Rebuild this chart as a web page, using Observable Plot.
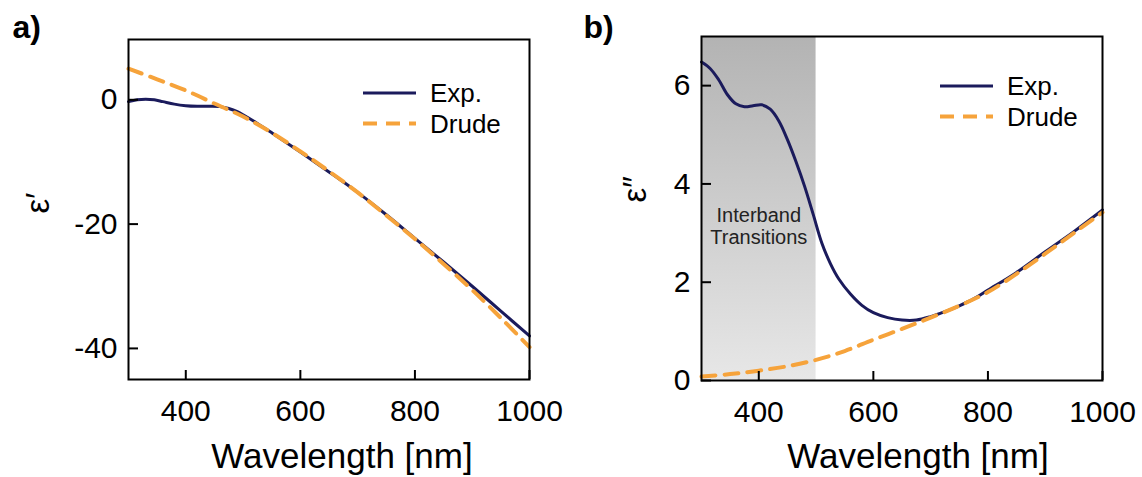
<!DOCTYPE html>
<html><head><meta charset="utf-8">
<script src="https://cdn.jsdelivr.net/npm/d3@7"></script>
<script src="https://cdn.jsdelivr.net/npm/@observablehq/plot@0.6"></script>
<style>
body{margin:0;background:#fff;}
#wrap{position:relative;width:1142px;height:477px;font-family:"Liberation Sans",Arial,sans-serif;overflow:hidden;}
#wrap svg{position:absolute;top:0;}
</style></head><body><div id="wrap"></div>
<script>
// ---- data ----
const xDomain = [300, 1000];
const xTicks = [400, 600, 800, 1000];
const yDomainA = [-45, 9.7];
const yTicksA = [-40, -20, 0];
const yDomainB = [0, 7];
const yTicksB = [0, 2, 4, 6];

// panel a: real part eps'
const wlExpA = [300,315,330,345,360,380,400,420,440,460,475,490,500,525,550,600,650,700,750,800,850,900,950,1000];
const epsRealExp = [-0.3,0.0,0.1,0.0,-0.3,-0.7,-0.95,-1.05,-1.05,-1.1,-1.4,-1.9,-2.4,-3.8,-5.3,-8.4,-11.6,-14.9,-18.5,-22.3,-26.1,-30.0,-34.0,-38.0];
const wlDrudeA = [300,350,400,450,500,550,600,650,700,750,800,850,900,950,1000];
const epsRealDrude = [5.0,3.3,1.5,-0.6,-2.7,-5.3,-8.3,-11.5,-14.9,-18.6,-22.4,-26.4,-30.6,-35.1,-39.8];

// panel b: imaginary part eps''
const wlExpB = [300,315,330,345,360,375,390,405,420,435,450,465,480,495,510,525,540,560,580,600,625,650,675,700,725,750,775,800,850,900,950,1000];
const epsImagExp = [6.48,6.35,6.12,5.82,5.63,5.57,5.59,5.61,5.52,5.28,4.9,4.45,3.95,3.38,2.8,2.38,2.06,1.76,1.53,1.38,1.28,1.23,1.23,1.3,1.4,1.52,1.66,1.84,2.2,2.62,3.03,3.47];
const wlDrudeB = [300,350,400,450,500,550,600,650,700,750,800,850,900,950,1000];
const epsImagDrude = [0.08,0.13,0.2,0.29,0.42,0.6,0.83,1.05,1.28,1.52,1.8,2.17,2.58,3.0,3.42];

const shadeBand = [{x1: 300, x2: 500}];
const annotation = [{x: 400, y: 3.14, label: "Interband\nTransitions"}];
const legendLabels = ["Exp.", "Drude"];
const xLabel = "Wavelength [nm]";

const NAVY = "#1b1b5c";
const ORANGE = "#f6a33b";
const FONT = "'Liberation Sans', Arial, sans-serif";

function makePanel(o) {
  const exp = o.wlExp.map((x, i) => ({x, y: o.exp[i]}));
  const dru = o.wlDrude.map((x, i) => ({x, y: o.drude[i]}));
  const marks = [];
  if (o.shade) marks.push(Plot.rect(o.shade, {x1: "x1", x2: "x2", fill: "url(#ibGrad)"}));
  if (o.annot) marks.push(Plot.text(o.annot, {x: "x", y: "y", text: "label", fontSize: 20, lineHeight: 1.08, fill: "#222"}));
  marks.push(
    Plot.line(exp, {x: "x", y: "y", stroke: NAVY, strokeWidth: 3, curve: "catmull-rom"}),
    Plot.line(dru, {x: "x", y: "y", stroke: ORANGE, strokeWidth: 4, strokeDasharray: "14,9", curve: "catmull-rom"}),
    Plot.axisX(xTicks, {anchor: "bottom", tickSize: 0, tickPadding: 20, fontSize: 30, label: null, tickFormat: d => String(d)}),
    Plot.axisY(o.yTicks, {anchor: "left", tickSize: 0, tickPadding: 11, fontSize: 30, label: null, tickFormat: d => String(d)}),
    Plot.ruleX(xTicks, {x: d => d, y1: o.yDomain[0], y2: o.yDomain[0], insetBottom: 9, stroke: "black", strokeWidth: 2}),
    Plot.ruleY(o.yTicks, {y: d => d, x1: xDomain[0], x2: xDomain[0], insetRight: -10, stroke: "black", strokeWidth: 2}),
    Plot.frame({stroke: "black", strokeWidth: 2}),
    Plot.text([xLabel], {text: d => d, frameAnchor: "bottom", lineAnchor: "bottom", dy: o.xlDy, dx: o.xlDx, fontSize: 35}),
    Plot.text([o.ylabel], {text: d => d, frameAnchor: "left", lineAnchor: "bottom", rotate: -90, dx: o.ylDx, dy: o.ylDy, fontSize: 33}),
    Plot.text([o.letter], {text: d => d, frameAnchor: "top-left", textAnchor: "start", lineAnchor: "bottom", dx: 12 - o.margin[3], dy: 37 - o.margin[0], fontSize: 32, fontWeight: "bold"})
  );
  const svg = Plot.plot({
    width: 571, height: 477,
    marginTop: o.margin[0], marginRight: o.margin[1], marginBottom: o.margin[2], marginLeft: o.margin[3],
    x: {domain: xDomain},
    y: {domain: o.yDomain},
    style: {fontFamily: FONT, background: "transparent", color: "black", overflow: "visible"},
    marks
  });
  if (o.shade) {
    const defs = d3.select(svg).insert("defs", ":first-child");
    const g = defs.append("linearGradient").attr("id", "ibGrad").attr("x1", 0).attr("y1", 0).attr("x2", 0).attr("y2", 1);
    g.append("stop").attr("offset", 0).attr("stop-color", "#b3b3b3");
    g.append("stop").attr("offset", 1).attr("stop-color", "#e7e7e7");
  }
  svg.style.left = o.left + "px";
  return svg;
}

const wrap = document.getElementById("wrap");
wrap.append(makePanel({
  left: 0, margin: [39, 42, 98, 128], yDomain: yDomainA, yTicks: yTicksA,
  wlExp: wlExpA, exp: epsRealExp, wlDrude: wlDrudeA, drude: epsRealDrude,
  letter: "a)", ylabel: "ε′", ylDx: -80, ylDy: 4, xlDx: 13, xlDy: 88
}));
wrap.append(makePanel({
  left: 571, margin: [36, 40, 97, 130], yDomain: yDomainB, yTicks: yTicksB,
  wlExp: wlExpB, exp: epsImagExp, wlDrude: wlDrudeB, drude: epsImagDrude,
  letter: "b)", ylabel: "ε″", ylDx: -56, ylDy: -6, xlDx: 16, xlDy: 87,
  shade: shadeBand, annot: annotation
}));

// legends
const leg = d3.select(wrap).append("svg").attr("width", 1142).attr("height", 477)
  .style("left", "0px").style("pointer-events", "none").style("font-family", FONT);
[{x: 363, y: 93}, {x: 940, y: 86}].forEach(p => {
  legendLabels.forEach((lab, i) => {
    const y = p.y + i * 30.5;
    leg.append("line").attr("x1", p.x).attr("x2", p.x + 53).attr("y1", y).attr("y2", y)
      .attr("stroke", i === 0 ? NAVY : ORANGE).attr("stroke-width", i === 0 ? 3 : 4)
      .attr("stroke-dasharray", i === 0 ? null : "14,9");
    leg.append("text").attr("x", p.x + 67).attr("y", y).attr("dy", "0.36em")
      .attr("font-size", 26).text(lab);
  });
});
</script>
</body></html>
